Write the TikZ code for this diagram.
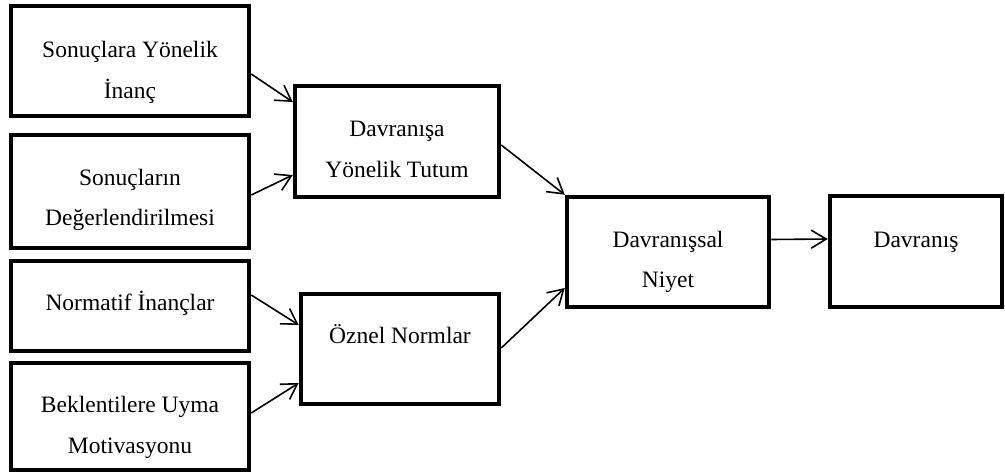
\documentclass[tikz,border=0pt]{standalone}
\usepackage{fontspec}
\setmainfont{Liberation Serif}
\usetikzlibrary{arrows.meta}
\begin{document}
\begin{tikzpicture}[x=1pt,y=-1pt,
  box/.style={draw=black,line width=4.5pt,fill=white,rectangle,inner sep=0pt},
  txt/.style={anchor=base,inner sep=0pt,font=\fontsize{23.5}{28}\selectfont},
  link/.style={line width=1.6pt,-{Straight Barb[length=15pt,width=18pt,line width=1.6pt]}}]
\useasboundingbox (0,0) rectangle (1005,474);
% left column: beliefs and evaluations
\node[box,minimum width=238pt,minimum height=110pt] (b1) at (130,61) {};
\node[box,minimum width=238pt,minimum height=113pt] (b2) at (130,191.5) {};
\node[box,minimum width=238pt,minimum height=90pt]  (b3) at (130,306) {};
\node[box,minimum width=238pt,minimum height=107pt] (b4) at (130,416.5) {};
% middle column
\node[box,minimum width=204pt,minimum height=111pt] (bA) at (397,141.5) {};
\node[box,minimum width=198pt,minimum height=110pt] (bB) at (400,349) {};
% intention and behaviour
\node[box,minimum width=202pt,minimum height=110pt] (bN) at (668,252) {};
\node[box,minimum width=172pt,minimum height=111pt] (bD) at (916,251.5) {};
% labels
\node[txt] (t1a) at (130,57) {Sonuçlara Yönelik};
\node[txt] (t1b) at (130,98) {İnanç};
\node[txt] (t2a) at (130,185) {Sonuçların};
\node[txt] (t2b) at (130,225) {Değerlendirilmesi};
\node[txt] (t3a) at (130,310) {Normatif İnançlar};
\node[txt] (t4a) at (130,412) {Beklentilere Uyma};
\node[txt] (t4b) at (130,453) {Motivasyonu};
\node[txt] (tAa) at (397,136) {Davranışa};
\node[txt] (tAb) at (397,177) {Yönelik Tutum};
\node[txt] (tBa) at (400,343) {Öznel Normlar};
\node[txt] (tNa) at (668,247) {Davranışsal};
\node[txt] (tNb) at (668,287) {Niyet};
\node[txt] (tDa) at (916,247) {Davranış};
% connectors
\draw[link] ([yshift=-13pt]b1.east) -- ([yshift=39.5pt]bA.west);
\draw[link] ([yshift=-3.5pt]b2.east) -- ([yshift=-33.5pt]bA.west);
\draw[link] ([yshift=11pt]b3.east) -- ([yshift=24pt]bB.west);
\draw[link] ([yshift=3.5pt]b4.east) -- ([yshift=-34pt]bB.west);
\draw[link] ([yshift=-3.5pt]bA.east) -- (bN.north west);
\draw[link] ([yshift=1pt]bB.east) -- ([yshift=-36pt]bN.west);
\draw[link] ([yshift=12.5pt]bN.east) -- ([yshift=12.5pt]bD.west);
\end{tikzpicture}
\end{document}
